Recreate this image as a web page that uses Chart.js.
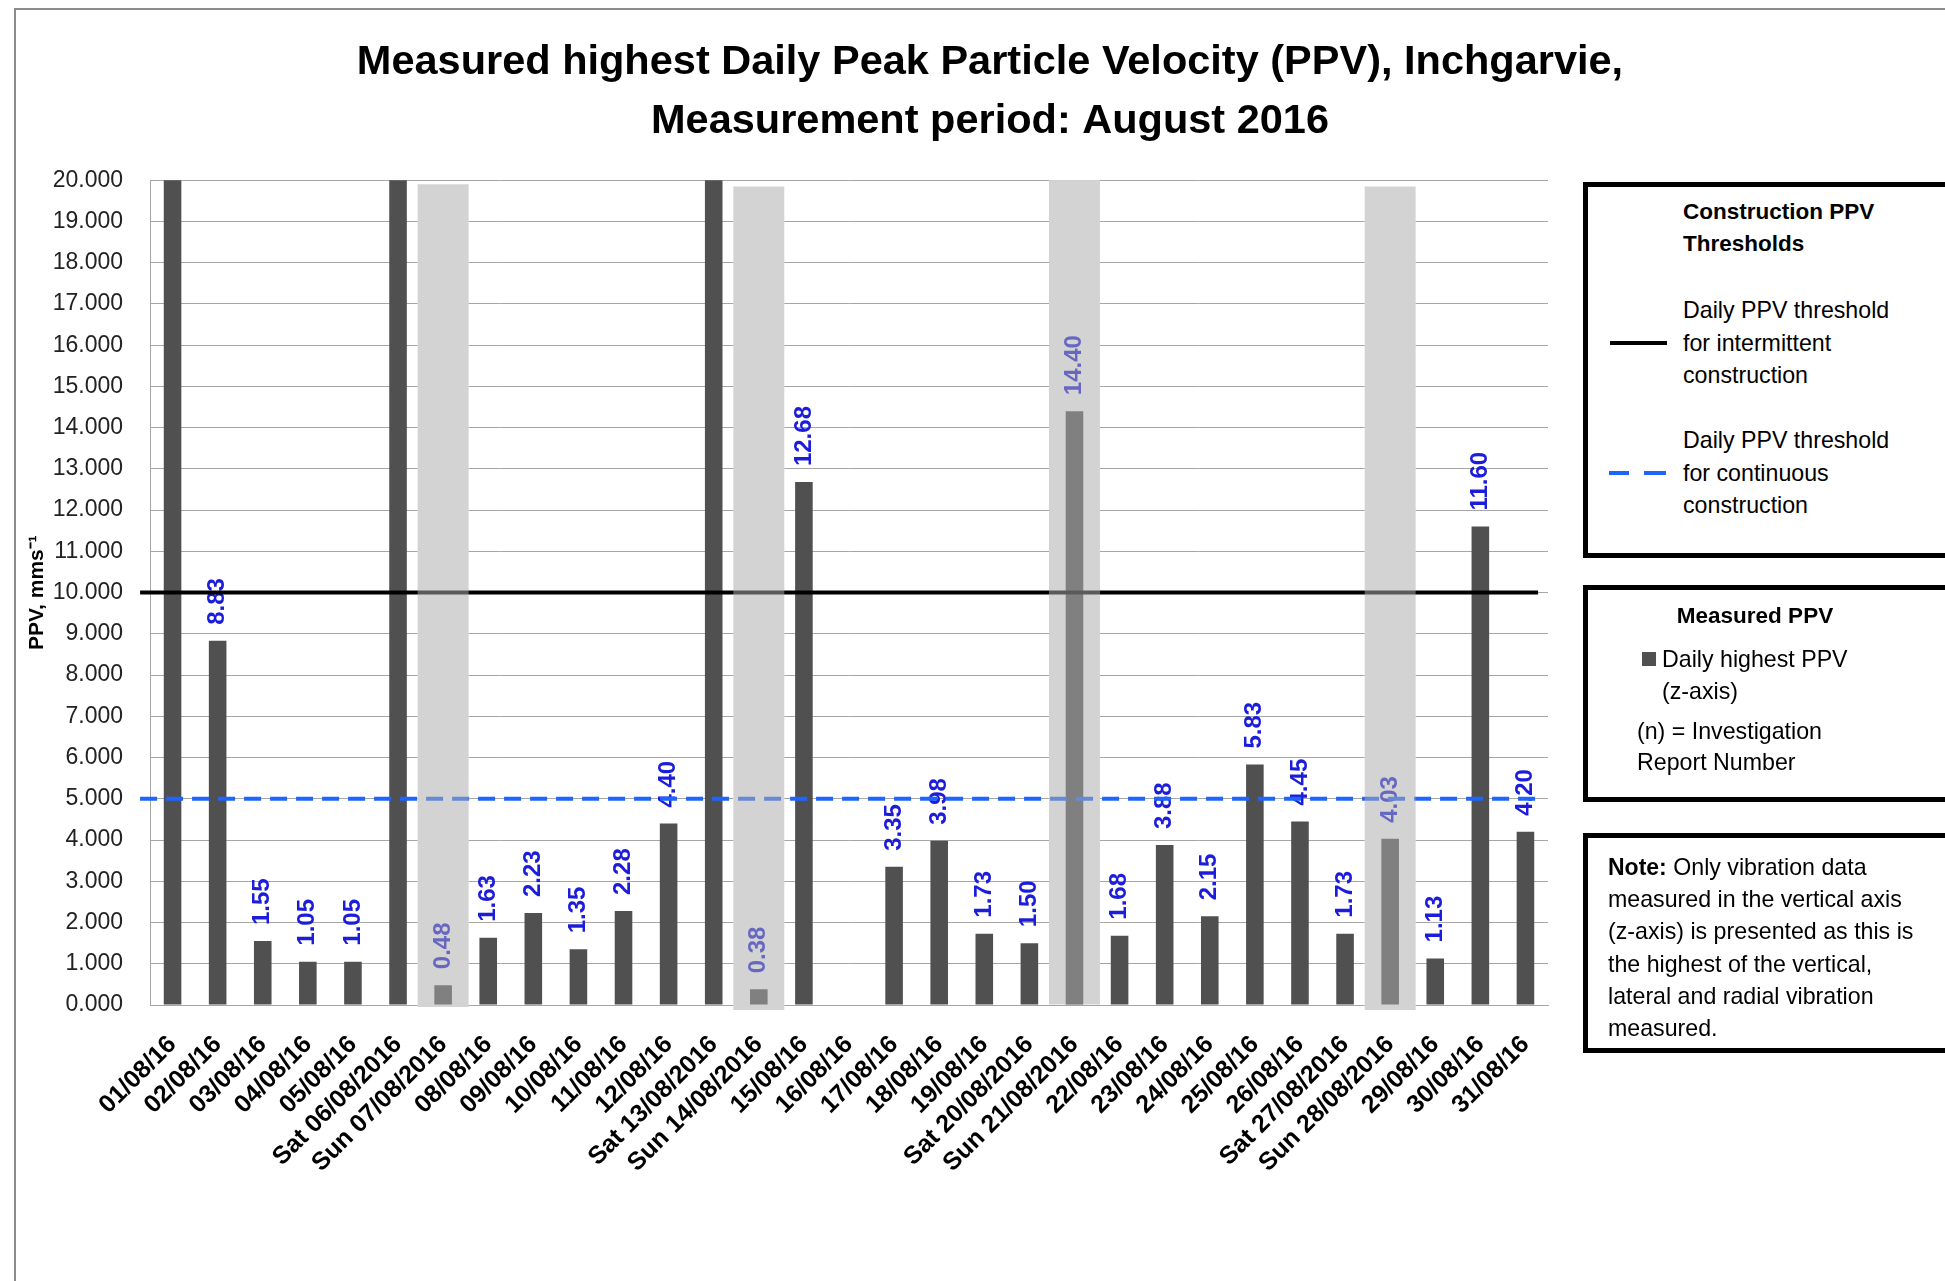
<!DOCTYPE html>
<html>
<head>
<meta charset="utf-8">
<script src="https://cdn.jsdelivr.net/npm/chart.js@4.4.1/dist/chart.umd.min.js"></script>
<style>
  body { margin: 0; width: 1945px; height: 1281px; overflow: hidden; position: relative; background: #fff;
         font-family: 'Liberation Sans', Arial, sans-serif; color: #000; }
  #frame { position: absolute; left: 14px; top: 8px; width: 2000px; height: 1400px; border: 2px solid #8c8c8c; pointer-events: none; }
  canvas { position: absolute; left: 0; top: 0; }
  .box { position: absolute; left: 1583px; width: 500px; border: 5px solid #000; box-sizing: border-box; background: #fff; }
  .txt { position: absolute; font-size: 23.2px; line-height: 32.5px; white-space: nowrap; }
  .b { font-weight: bold; font-size: 22.5px; }
  .txt .b { font-size: 23px; }
</style>
</head>
<body>
<canvas id="ppvChart" width="1945" height="1281"></canvas>
<div id="frame"></div>

<!-- Construction thresholds legend -->
<div class="box" style="top:182px; height:376px;"></div>
<div class="txt b" style="left:1683px; top:196px; line-height:32px;">Construction PPV<br>Thresholds</div>
<div style="position:absolute; left:1610px; top:341px; width:57px; height:4px; background:#000;"></div>
<div class="txt" style="left:1683px; top:294px;">Daily PPV threshold<br>for intermittent<br>construction</div>
<div style="position:absolute; left:1609px; top:471px; width:20px; height:4px; background:#1e64ff;"></div>
<div style="position:absolute; left:1644px; top:471px; width:22px; height:4px; background:#1e64ff;"></div>
<div class="txt" style="left:1683px; top:424px;">Daily PPV threshold<br>for continuous<br>construction</div>

<!-- Measured PPV legend -->
<div class="box" style="top:585px; height:217px;"></div>
<div class="txt b" style="left:1655px; width:200px; text-align:center; top:600px;">Measured PPV</div>
<div style="position:absolute; left:1642px; top:652px; width:14px; height:14px; background:#505050;"></div>
<div class="txt" style="left:1662px; top:643px; line-height:32px;">Daily highest PPV<br>(z-axis)</div>
<div class="txt" style="left:1637px; top:716px; line-height:31px;">(n) = Investigation<br>Report Number</div>

<!-- Note -->
<div class="box" style="top:833px; height:220px;"></div>
<div class="txt" style="left:1608px; top:851px; line-height:32.2px;"><span class="b">Note:</span> Only vibration data<br>measured in the vertical axis<br>(z-axis) is presented as this is<br>the highest of the vertical,<br>lateral and radial vibration<br>measured.</div>

<script>
// Categories (days of August 2016)
const days = [
    '01/08/16', '02/08/16', '03/08/16', '04/08/16', '05/08/16', 'Sat 06/08/2016', 'Sun 07/08/2016',
    '08/08/16', '09/08/16', '10/08/16', '11/08/16', '12/08/16', 'Sat 13/08/2016', 'Sun 14/08/2016',
    '15/08/16', '16/08/16', '17/08/16', '18/08/16', '19/08/16', 'Sat 20/08/2016', 'Sun 21/08/2016',
    '22/08/16', '23/08/16', '24/08/16', '25/08/16', '26/08/16', 'Sat 27/08/2016', 'Sun 28/08/2016',
    '29/08/16', '30/08/16', '31/08/16'
];

// Daily highest PPV (z-axis), mm/s. Bars running off the top (>20) are estimates.
const dailyPPV = [
    24.0, 8.83, 1.55, 1.05, 1.05, 24.0, 0.48,
    1.63, 2.23, 1.35, 2.28, 4.40, 24.0, 0.38,
    12.68, null, 3.35, 3.98, 1.73, 1.50, 14.40,
    1.68, 3.88, 2.15, 5.83, 4.45, 1.73, 4.03,
    1.13, 11.60, 4.20
];

// Shaded Sunday bands (low / high in axis units)
const sundays = ['Sun 07/08/2016', 'Sun 14/08/2016', 'Sun 21/08/2016', 'Sun 28/08/2016'];
const sundayBandLow = [-0.05, -0.12, 0, -0.12];
const sundayBandHigh = [19.9, 19.85, 20, 19.85];

// Thresholds
const thresholdIntermittent = 10;
const thresholdContinuous = 5;
const thresholdSpan = [-0.72, 30.28];

// Y axis ticks
const yMin = 0, yMax = 20, yStep = 1;

const FONT = "'Liberation Sans', Arial, sans-serif";
const BAR_COLOR = '#505050';
const LABEL_COLOR = '#1c1cdb';
const BLUE = '#1e64ff';

Chart.defaults.font.family = FONT;

const bandData = days.map(d => {
    const k = sundays.indexOf(d);
    return k < 0 ? null : [sundayBandLow[k], sundayBandHigh[k]];
});

const thresholdLine = v => thresholdSpan.map(x => ({ x, y: v }));

// value labels, drawn right after the bars so the Sunday overlay covers them
const valueLabels = {
    id: 'valueLabels',
    afterDatasetDraw(chart, args) {
        if (args.index !== 1) return;
        const ctx = chart.ctx;
        const top = chart.scales.y.max;
        ctx.save();
        ctx.font = 'bold 24px ' + FONT;
        ctx.fillStyle = LABEL_COLOR;
        ctx.textAlign = 'left';
        ctx.textBaseline = 'middle';
        args.meta.data.forEach((bar, i) => {
            const v = dailyPPV[i];
            if (v == null || v > top) return;
            ctx.save();
            ctx.translate(bar.x, bar.y - 16);
            ctx.rotate(-Math.PI / 2);
            ctx.fillText(v.toFixed(2), 0, 0);
            ctx.restore();
        });
        ctx.restore();
    }
};

const ctx = document.getElementById('ppvChart').getContext('2d');
new Chart(ctx, {
    type: 'bar',
    data: {
        labels: days,
        datasets: [
            {
                label: 'band base',
                data: bandData,
                backgroundColor: '#ffffff',
                grouped: false,
                barPercentage: 1.13,
                categoryPercentage: 1,
                clip: false,
                order: 3
            },
            {
                label: 'Daily highest PPV (z-axis)',
                data: dailyPPV,
                backgroundColor: BAR_COLOR,
                grouped: false,
                barPercentage: 0.39,
                categoryPercentage: 1,
                clip: 0,
                order: 2
            },
            {
                type: 'line',
                label: 'Daily PPV threshold for intermittent construction',
                data: thresholdLine(thresholdIntermittent),
                xAxisID: 'x2',
                borderColor: '#000',
                borderWidth: 4,
                pointRadius: 0,
                clip: false,
                order: 1
            },
            {
                type: 'line',
                label: 'Daily PPV threshold for continuous construction',
                data: thresholdLine(thresholdContinuous),
                xAxisID: 'x2',
                borderColor: BLUE,
                borderWidth: 4,
                borderDash: [17, 9],
                pointRadius: 0,
                clip: false,
                order: 1
            },
            {
                label: 'band overlay',
                data: bandData,
                backgroundColor: 'rgba(171,171,171,0.525)',
                grouped: false,
                barPercentage: 1.13,
                categoryPercentage: 1,
                clip: false,
                order: 0
            }
        ]
    },
    options: {
        responsive: false,
        animation: false,
        layout: { padding: { top: 0, left: 35, right: 0, bottom: 0 } },
        plugins: {
            legend: { display: false },
            tooltip: { enabled: false },
            title: {
                display: true,
                text: ['Measured highest Daily Peak Particle Velocity (PPV), Inchgarvie,',
                       'Measurement period: August 2016'],
                color: '#000',
                font: { size: 41.5, weight: 'bold', lineHeight: 1.4 },
                padding: { top: 34, bottom: 30 }
            }
        },
        scales: {
            x: {
                grid: { display: false, drawTicks: false },
                border: { color: '#a6a6a6', width: 1 },
                ticks: {
                    autoSkip: false, minRotation: 45, maxRotation: 45,
                    color: '#000', font: { size: 25, weight: 'bold' }, padding: 25
                },
                afterFit: s => { s.height = 276; }
            },
            x2: {
                type: 'linear',
                display: false,
                offset: false,
                min: -0.5,
                max: 30.5
            },
            y: {
                min: yMin,
                max: yMax,
                ticks: {
                    stepSize: yStep,
                    callback: v => Number(v).toFixed(3),
                    color: '#222',
                    font: { size: 23 },
                    padding: 27
                },
                grid: { color: '#a6a6a6', lineWidth: 1, drawTicks: false },
                border: { color: '#a6a6a6', width: 1 },
                title: {
                    display: true,
                    text: 'PPV, mms⁻¹',
                    color: '#000',
                    font: { size: 21, weight: 'bold' },
                    padding: { top: -10, bottom: 0 }
                },
                afterFit: s => { s.width = 115; }
            },
            yRight: {
                type: 'linear',
                position: 'right',
                ticks: { display: false },
                grid: { display: false, drawTicks: false },
                border: { display: false },
                afterFit: s => { s.width = 397; }
            }
        }
    },
    plugins: [valueLabels]
});
</script>
</body>
</html>
